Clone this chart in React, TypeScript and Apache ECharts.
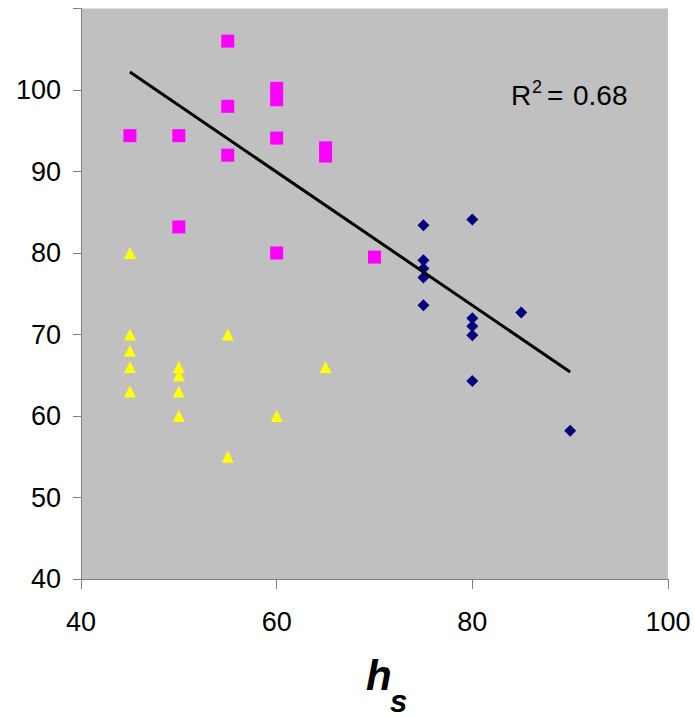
import React, { useEffect, useRef } from "react";
import * as echarts from "echarts";

const pinkX = [55, 60, 60, 55, 45, 50, 60, 55, 65, 65, 50, 60, 70];
const pinkY = [106, 100.2, 98.8, 98, 94.4, 94.4, 94.1, 92, 92.9, 91.9, 83.2, 80, 79.5];

const blueX = [75, 80, 75, 75, 75, 75, 80, 80, 80, 85, 80, 90];
const blueY = [83.4, 84.1, 79.1, 78.1, 77.0, 73.6, 72.0, 71.0, 69.9, 72.7, 64.3, 58.2];

const yellowX = [45, 45, 45, 45, 45, 55, 50, 50, 50, 50, 60, 65, 55];
const yellowY = [80, 70, 68, 66, 63, 70, 66, 65, 63, 60, 60, 66, 55];

const trendX = [45, 90];
const trendY = [102.2, 65.4];

const xTicks = { min: 40, max: 100, interval: 20 };
const yTicks = { min: 40, max: 110, interval: 10 };
const rSquaredText = "0.68";

const zip = (xs: number[], ys: number[]) => xs.map((x, i) => [x, ys[i]]);

export default function App() {
  const ref = useRef<HTMLDivElement>(null);
  useEffect(() => {
    if (!ref.current) return;
    const chart = echarts.init(ref.current, null, { renderer: "svg" });
    const font = "'Liberation Sans', Arial, sans-serif";
    chart.setOption({
      animation: false,
      backgroundColor: "#ffffff",
      grid: {
        left: 81,
        right: 27,
        top: 8.5,
        bottom: 138,
        show: true,
        backgroundColor: "#C0C0C0",
        borderWidth: 0,
      },
      xAxis: {
        type: "value",
        min: xTicks.min,
        max: xTicks.max,
        interval: xTicks.interval,
        splitLine: { show: false },
        axisLine: { show: true, onZero: false, lineStyle: { color: "#808080", width: 1 } },
        axisTick: { show: true, inside: false, length: 10, lineStyle: { color: "#808080" } },
        axisLabel: { color: "#000", fontSize: 27, fontFamily: font, margin: 29 },
      },
      yAxis: {
        type: "value",
        min: yTicks.min,
        max: yTicks.max,
        interval: yTicks.interval,
        splitLine: { show: false },
        axisLine: { show: true, onZero: false, lineStyle: { color: "#808080", width: 1 } },
        axisTick: { show: true, inside: false, length: 8, lineStyle: { color: "#808080" } },
        axisLabel: {
          color: "#000",
          fontSize: 27,
          fontFamily: font,
          margin: 20,
          formatter: (v: number) => (v >= yTicks.max ? "" : String(v)),
        },
      },
      series: [
        {
          type: "scatter",
          symbol: "rect",
          symbolSize: 13,
          itemStyle: { color: "#FF00FF", opacity: 1 },
          data: zip(pinkX, pinkY),
        },
        {
          type: "scatter",
          symbol: "diamond",
          symbolSize: 12,
          itemStyle: { color: "#000080", opacity: 1 },
          data: zip(blueX, blueY),
        },
        {
          type: "scatter",
          symbol: "triangle",
          symbolSize: 12,
          itemStyle: { color: "#FFFF00", opacity: 1 },
          data: zip(yellowX, yellowY),
        },
        {
          type: "line",
          symbol: "none",
          lineStyle: { color: "#000000", width: 3 },
          data: zip(trendX, trendY),
          z: 5,
        },
      ],
      graphic: [
        {
          type: "text",
          x: 511,
          y: 95,
          style: { text: "R", fontSize: 28, fontFamily: font, fill: "#000", verticalAlign: "middle", align: "left" },
        },
        {
          type: "text",
          x: 532,
          y: 87,
          style: { text: "2", fontSize: 18, fontFamily: font, fill: "#000", verticalAlign: "middle", align: "left" },
        },
        {
          type: "text",
          x: 547,
          y: 95,
          style: { text: "=", fontSize: 28, fontFamily: font, fill: "#000", verticalAlign: "middle", align: "left" },
        },
        {
          type: "text",
          x: 573,
          y: 95,
          style: { text: rSquaredText, fontSize: 28, fontFamily: font, fill: "#000", verticalAlign: "middle", align: "left" },
        },
        {
          type: "text",
          x: 366,
          y: 675,
          style: { text: "h", fontSize: 42, fontWeight: "bold", fontStyle: "italic", fontFamily: font, fill: "#000", verticalAlign: "middle", align: "left" },
        },
        {
          type: "text",
          x: 390,
          y: 701,
          style: { text: "s", fontSize: 31, fontWeight: "bold", fontStyle: "italic", fontFamily: font, fill: "#000", verticalAlign: "middle", align: "left" },
        },
      ],
    });
    return () => chart.dispose();
  }, []);
  return <div ref={ref} style={{ width: 695, height: 717, position: "absolute", left: 0, top: 0 }} />;
}
